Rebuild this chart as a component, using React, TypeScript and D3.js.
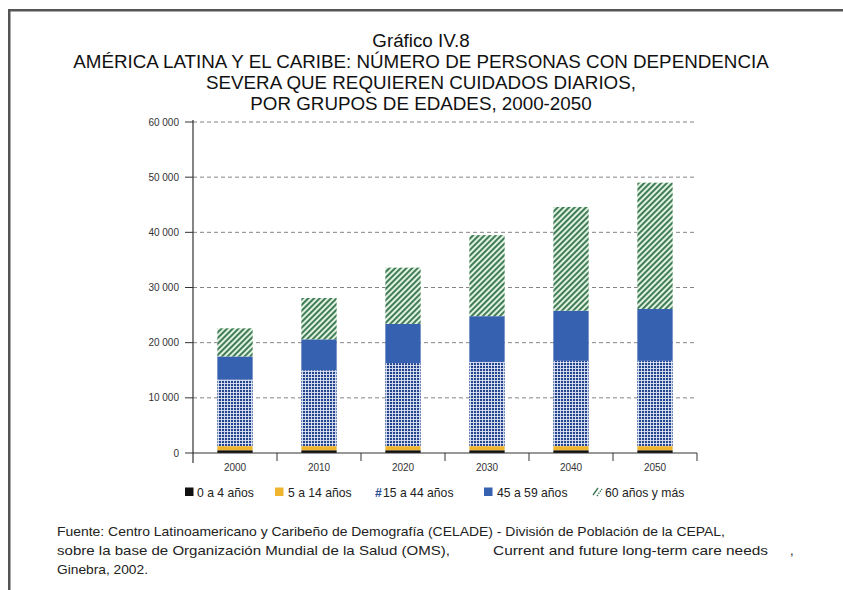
import React from "react";
import { scaleLinear, scaleBand, stack, range } from "d3";

const years = ["2000", "2010", "2020", "2030", "2040", "2050"];
const groups = ["0 a 4 años", "5 a 14 años", "15 a 44 años", "45 a 59 años", "60 años y más"];
const age0to4 = [500, 500, 500, 500, 500, 500];
const age5to14 = [750, 750, 750, 750, 750, 750];
const age15to44 = [12050, 13750, 15050, 15250, 15450, 15450];
const age45to59 = [4200, 5600, 7100, 8300, 9100, 9400];
const age60plus = [5100, 7500, 10200, 14700, 18800, 22900];
const yTicks = [0, 10000, 20000, 30000, 40000, 50000, 60000];
const titleLines = [
  "Gráfico IV.8",
  "AMÉRICA LATINA Y EL CARIBE: NÚMERO DE PERSONAS CON DEPENDENCIA",
  "SEVERA QUE REQUIEREN CUIDADOS DIARIOS,",
  "POR GRUPOS DE EDADES, 2000-2050",
];

const fills = ["#111111", "#f0b52e", "url(#grid)", "#3660b0", "url(#stripes)"];
const font = "Liberation Sans, Arial, sans-serif";

function fmt(v: number) {
  return v === 0 ? "0" : `${Math.floor(v / 1000)} ${String(v % 1000).padStart(3, "0")}`;
}

export default function App() {
  const W = 843;
  const H = 590;
  const left = 193;
  const right = 697;
  const top = 122;
  const bottom = 453;

  const rows = years.map((y, i) => ({
    year: y,
    a: age0to4[i],
    b: age5to14[i],
    c: age15to44[i],
    d: age45to59[i],
    e: age60plus[i],
  }));
  const series = stack<any>().keys(["a", "b", "c", "d", "e"])(rows);

  const x = scaleBand().domain(years).range([left, right]).paddingInner(0.58).paddingOuter(0.29);
  const y = scaleLinear().domain([0, 60000]).range([bottom, top]);
  const step = (right - left) / years.length;

  // legend icon / label x positions
  const legendIcon = [185, 275, 375, 484, 593];
  const legendText = [197, 288, 383, 497, 605];

  return (
    <svg width={W} height={H} style={{ position: "absolute", left: 0, top: 0 }}>
      <defs>
        <pattern id="grid" width="3" height="3" patternUnits="userSpaceOnUse">
          <rect width="3" height="3" fill="#dfe6f4" />
          <rect width="2.1" height="2.1" fill="#24458c" />
        </pattern>
        <pattern id="stripes" width="4" height="4" patternUnits="userSpaceOnUse" patternTransform="rotate(45)">
          <rect width="4" height="4" fill="#e0f2e0" />
          <rect width="1.9" height="4" fill="#3a7650" />
        </pattern>
      </defs>
      <rect width={W} height={H} fill="#fff" />
      <rect x={8} y={9} width={W - 8} height={2.5} fill="#555" />
      <rect x={8} y={9} width={2.5} height={H - 9} fill="#555" />

      {titleLines.map((t, i) => (
        <text key={i} x={421} y={[47, 67.5, 89, 110][i]} textAnchor="middle" fontFamily={font} fontSize={18.8} fill="#111">
          {t}
        </text>
      ))}

      {yTicks.map((t) => (
        <g key={t}>
          {t > 0 && (
            <line x1={left} x2={right} y1={y(t)} y2={y(t)} stroke="#777" strokeWidth={0.9} strokeDasharray="4 3" />
          )}
          <line x1={left - 8} x2={left} y1={y(t)} y2={y(t)} stroke="#333" strokeWidth={1} />
          <text x={left - 14} y={y(t) + 3.5} textAnchor="end" fontFamily={font} fontSize={10} fill="#333">
            {fmt(t)}
          </text>
        </g>
      ))}

      {series.map((s, k) =>
        s.map((d, i) => (
          <rect
            key={`${k}-${i}`}
            x={x(years[i])}
            y={y(d[1])}
            width={x.bandwidth()}
            height={y(d[0]) - y(d[1])}
            fill={fills[k]}
          />
        ))
      )}

      <line x1={left} x2={right} y1={bottom} y2={bottom} stroke="#333" strokeWidth={1.2} />
      <line x1={left} x2={left} y1={top - 2} y2={bottom + 10} stroke="#333" strokeWidth={1.2} />
      {range(1, years.length + 1).map((i) => (
        <line key={i} x1={left + i * step} x2={left + i * step} y1={bottom} y2={bottom + 8} stroke="#333" strokeWidth={1} />
      ))}
      {years.map((yr) => (
        <text
          key={yr}
          x={(x(yr) as number) + x.bandwidth() / 2}
          y={bottom + 17.5}
          textAnchor="middle"
          fontFamily={font}
          fontSize={10}
          fill="#333"
        >
          {yr}
        </text>
      ))}

      {groups.map((g, i) => (
        <g key={g}>
          {i === 2 ? (
            <text x={legendIcon[i]} y={496.5} fontFamily={font} fontSize={12.2} fontWeight="bold" fill="#2c4c92">
              #
            </text>
          ) : i === 4 ? (
            <g stroke="#3a7650" strokeWidth={1.3}>
              <line x1={legendIcon[i]} y1={495} x2={legendIcon[i] + 5} y2={488} />
              <line x1={legendIcon[i] + 4} y1={496} x2={legendIcon[i] + 9} y2={489} strokeDasharray="1.5 1" />
            </g>
          ) : (
            <rect x={legendIcon[i]} y={487.5} width={8.5} height={8.5} fill={fills[i]} />
          )}
          <text x={legendText[i]} y={496.5} fontFamily={font} fontSize={12.2} fill="#222">
            {g}
          </text>
        </g>
      ))}

      <g fontFamily={font} fontSize={13} fill="#222">
        <text x={57} y={536} textLength={668} lengthAdjust="spacingAndGlyphs">
          Fuente: Centro Latinoamericano y Caribeño de Demografía (CELADE) - División de Población de la CEPAL,
        </text>
        <text x={57} y={555} textLength={393} lengthAdjust="spacingAndGlyphs">
          sobre la base de Organización Mundial de la Salud (OMS),
        </text>
        <text x={493} y={555} textLength={275} lengthAdjust="spacingAndGlyphs">
          Current and future long-term care needs
        </text>
        <text x={790} y={555}>,</text>
        <text x={57} y={574} textLength={91} lengthAdjust="spacingAndGlyphs">
          Ginebra, 2002.
        </text>
      </g>
    </svg>
  );
}
